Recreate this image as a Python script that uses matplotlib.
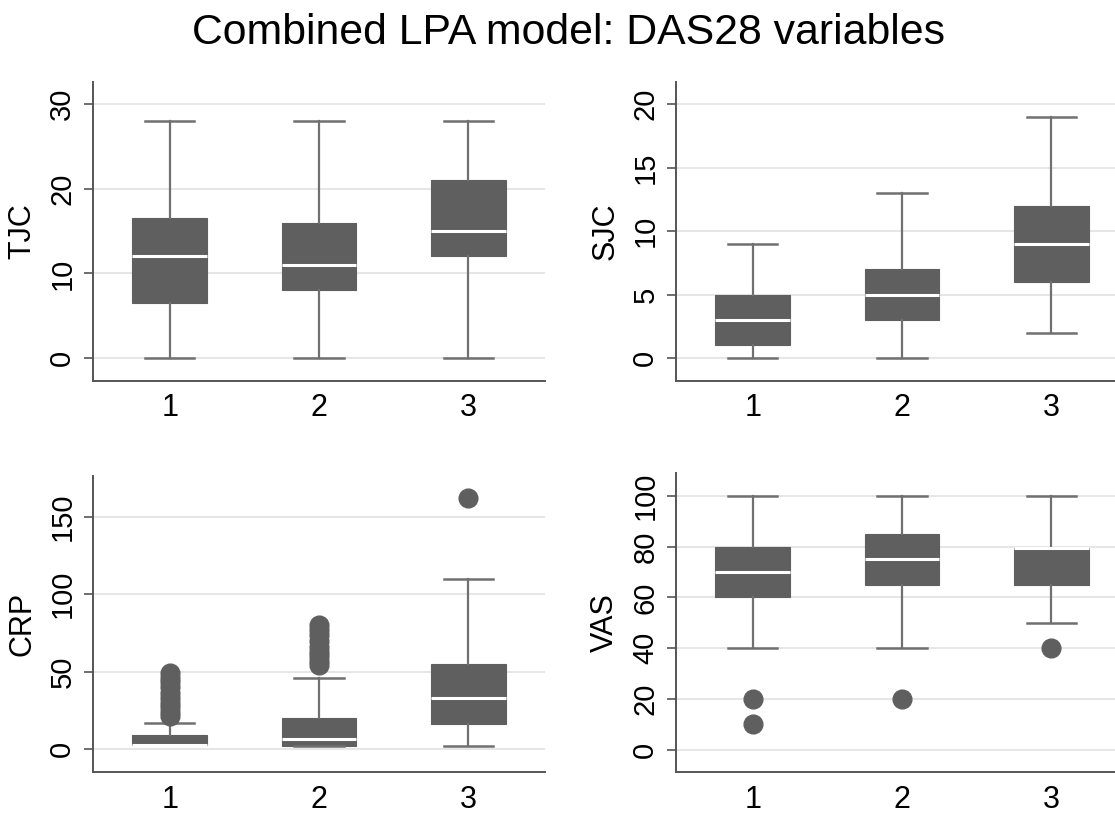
import matplotlib
matplotlib.use("Agg")
import matplotlib.pyplot as plt

plt.rcParams['font.family'] = ['Liberation Sans', 'DejaVu Sans']

groups = ["1", "2", "3"]

# TJC
tjc_q1 = [6.5, 8, 12]
tjc_med = [12, 11, 15]
tjc_q3 = [16.5, 16, 21]
tjc_lo = [0, 0, 0]
tjc_hi = [28, 28, 28]
tjc_fliers = [[], [], []]

# SJC
sjc_q1 = [1, 3, 6]
sjc_med = [3, 5, 9]
sjc_q3 = [5, 7, 12]
sjc_lo = [0, 0, 2]
sjc_hi = [9, 13, 19]
sjc_fliers = [[], [], []]

# CRP
crp_q1 = [2.6, 1.7, 16.4]
crp_med = [2.6, 6.4, 32.8]
crp_q3 = [8.9, 19.8, 54.7]
crp_lo = [2.6, 1.7, 1.9]
crp_hi = [17, 45.7, 110]
crp_fliers = [[21, 24, 27, 30, 33, 36, 40, 43, 46, 49],
              [54, 57, 60, 63, 66, 70, 74, 77, 80.4],
              [162]]

# VAS
vas_q1 = [60, 65, 65]
vas_med = [70, 75, 79.5]
vas_q3 = [80, 85, 79.5]
vas_lo = [40, 40, 50]
vas_hi = [100, 100, 100]
vas_fliers = [[20, 10], [20], [40]]

W, H = 1115, 814
fig = plt.figure(figsize=(W / 100, H / 100), dpi=100)

BOX = '#5f5f5f'
WHISK = '#707070'
SPINE = '#555555'
GRID = '#e6e6e6'


def panel(rect, label, q1, med, q3, lo, hi, fl, ylim, yticks):
    ax = fig.add_axes(rect)
    stats = []
    for i in range(3):
        stats.append(dict(q1=q1[i], med=med[i], q3=q3[i], whislo=lo[i],
                          whishi=hi[i], fliers=fl[i], label=groups[i]))
    ax.bxp(stats, positions=[1, 2, 3], widths=0.5, capwidths=0.33,
           patch_artist=True, showfliers=True,
           boxprops=dict(facecolor=BOX, edgecolor=BOX, linewidth=0.8),
           medianprops=dict(color='white', linewidth=2.2),
           whiskerprops=dict(color=WHISK, linewidth=1.6),
           capprops=dict(color=WHISK, linewidth=1.8),
           flierprops=dict(marker='o', markersize=13.5, markerfacecolor=BOX,
                           markeredgecolor=BOX, linestyle='none'),
           zorder=3)
    ax.set_xlim(0.487, 3.513)
    ax.set_ylim(*ylim)
    ax.set_yticks(yticks)
    ax.yaxis.grid(True, color=GRID, linewidth=1.4, zorder=0)
    ax.set_axisbelow(True)
    for s in ['top', 'right']:
        ax.spines[s].set_visible(False)
    for s in ['left', 'bottom']:
        ax.spines[s].set_color(SPINE)
        ax.spines[s].set_linewidth(1.4)
    ax.tick_params(axis='x', length=0, labelsize=22, pad=9, colors='black')
    ax.tick_params(axis='y', length=6.5, width=1.2, color=SPINE, labelsize=21,
                   pad=5.5, labelcolor='black')
    for t in ax.get_yticklabels():
        t.set_rotation(90)
        t.set_va('center')
        t.set_ha('right')
    ax.set_ylabel(label, fontsize=22, labelpad=8)
    ax.set_xticklabels(groups)
    return ax


def frac(left, top, right, bottom):
    return [left / W, 1 - bottom / H, (right - left) / W, (bottom - top) / H]


panel(frac(93, 82, 545, 381), 'TJC', tjc_q1, tjc_med, tjc_q3, tjc_lo, tjc_hi,
      tjc_fliers, (-2.7, 32.6), [0, 10, 20, 30])
panel(frac(676, 82, 1128, 381), 'SJC', sjc_q1, sjc_med, sjc_q3, sjc_lo, sjc_hi,
      sjc_fliers, (-1.8, 21.73), [0, 5, 10, 15, 20])
panel(frac(93, 476, 545, 772), 'CRP', crp_q1, crp_med, crp_q3, crp_lo, crp_hi,
      crp_fliers, (-14.9, 176.5), [0, 50, 100, 150])
panel(frac(676, 473, 1128, 772), 'VAS', vas_q1, vas_med, vas_q3, vas_lo, vas_hi,
      vas_fliers, (-8.8, 109), [0, 20, 40, 60, 80, 100])

fig.text(568 / W, 1 - 33 / H, 'Combined LPA model: DAS28 variables',
         ha='center', va='center', fontsize=30.8)

fig.savefig('out.png', dpi=100, facecolor='white')
